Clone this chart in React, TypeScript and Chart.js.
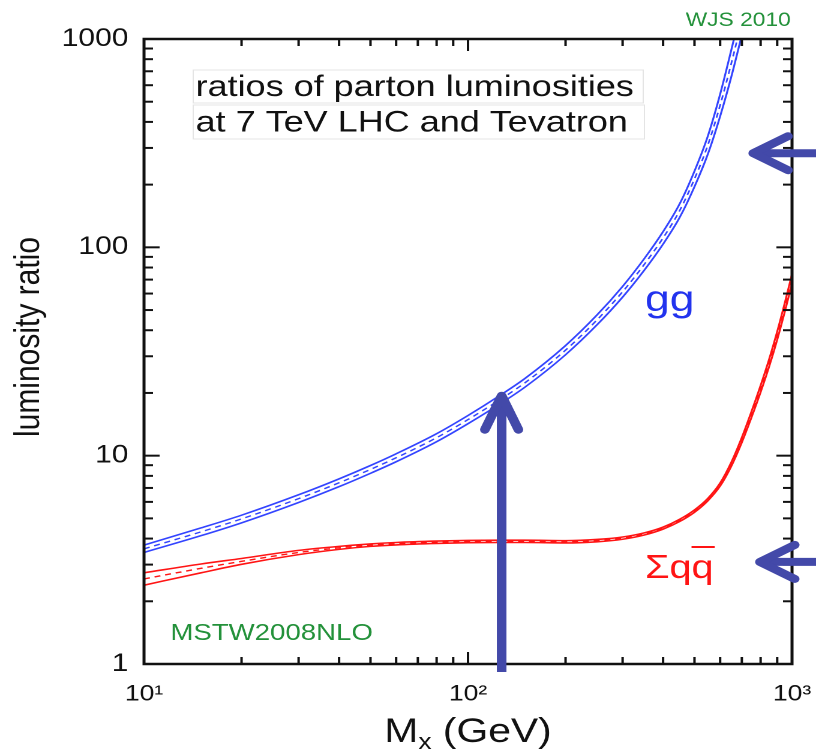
import { useEffect, useRef } from 'react';
import { Chart, registerables } from 'chart.js';

Chart.register(...registerables);

// ---------- data ----------
const massGG = [10, 15, 20, 30, 40, 50, 60, 80, 100, 125, 150, 200, 250, 300, 350, 400, 450, 500, 550, 600, 650, 700];
const ggCentral = [3.57, 4.31, 4.97, 6.22, 7.41, 8.59, 9.77, 12.2, 14.9, 18.5, 22.4, 32.1, 44.8, 61.2, 82.8, 111, 150, 213, 310, 481, 767, 1222];
const ggUpper = [3.72, 4.50, 5.18, 6.49, 7.74, 8.97, 10.21, 12.75, 15.59, 19.39, 23.50, 33.77, 47.31, 64.93, 88.26, 118.9, 161.7, 232.2, 342.6, 543.5, 889.7, 1430];
const ggLower = [3.43, 4.13, 4.76, 5.96, 7.10, 8.23, 9.35, 11.67, 14.24, 17.65, 21.35, 30.51, 42.42, 57.68, 77.67, 103.6, 139.1, 195.4, 280.5, 425.7, 661.2, 1044];

const massQQ = [10, 15, 20, 30, 40, 50, 60, 80, 100, 125, 150, 200, 250, 300, 350, 400, 450, 500, 550, 600, 650, 700, 750, 800, 850, 900, 950, 1000];
const qqCentral = [2.56, 2.88, 3.11, 3.43, 3.61, 3.72, 3.78, 3.84, 3.87, 3.88, 3.88, 3.86, 3.91, 4.02, 4.21, 4.49, 4.89, 5.42, 6.16, 7.27, 9.12, 11.9, 15.8, 20.95, 27.9, 37.7, 51.6, 70.7];
const qqUpper = [2.74, 3.02, 3.21, 3.51, 3.67, 3.77, 3.83, 3.89, 3.92, 3.93, 3.93, 3.91, 3.96, 4.07, 4.26, 4.54, 4.95, 5.49, 6.24, 7.39, 9.32, 12.23, 16.32, 21.73, 29.04, 39.40, 54.13, 74.38];
const qqLower = [2.39, 2.74, 3.01, 3.35, 3.55, 3.67, 3.73, 3.79, 3.82, 3.83, 3.83, 3.81, 3.86, 3.97, 4.16, 4.44, 4.83, 5.35, 6.08, 7.15, 8.92, 11.57, 15.28, 20.17, 26.76, 36.00, 49.07, 67.02];

const xLabelValues = [10, 100, 1000];
const xTickLabels = ['10¹', '10²', '10³'];
const yLabelValues = [1, 10, 100, 1000];
const yTickLabels = ['1', '10', '100', '1000'];
const xTickValues = [10, 20, 30, 40, 50, 60, 70, 80, 90, 100, 200, 300, 400, 500, 600, 700, 800, 900, 1000];
const yTickValues = [1, 2, 3, 4, 5, 6, 7, 8, 9, 10, 20, 30, 40, 50, 60, 70, 80, 90, 100, 200, 300, 400, 500, 600, 700, 800, 900, 1000];
const majorValues = [1, 10, 100, 1000];

// arrows (annotation anchors in data units)
const higgsArrow = { m: 127, from: 0.915, to: 19.4 };
const ggArrow = { m: 759, r: 283 };
const qqArrow = { m: 796, r: 3.09 };

const FONT = '"Liberation Sans", Arial, Helvetica, sans-serif';
const BLUE = '#3344ff';
const RED = '#ff1414';
const ARROW = '#4349a9';
const GREEN = '#23913a';

const band = (label: string, xs: number[], ys: number[], color: string, dashed: boolean, width: number) => ({
  label,
  data: xs.map((m, i) => ({ x: m, y: ys[i] })),
  borderColor: color,
  borderWidth: width,
  borderDash: dashed ? [5, 4] : [],
  pointRadius: 0,
  fill: false,
  cubicInterpolationMode: 'monotone' as const,
});

const annotationPlugin = {
  id: 'annotations',
  afterDraw(chart: any) {
    const { ctx, chartArea: a } = chart;
    const xs = chart.scales.x;
    const ys = chart.scales.y;
    ctx.save();

    const line = (x1: number, y1: number, x2: number, y2: number) => {
      ctx.beginPath();
      ctx.moveTo(x1, y1);
      ctx.lineTo(x2, y2);
      ctx.stroke();
    };

    // frame
    ctx.strokeStyle = '#111';
    ctx.lineWidth = 2.5;
    ctx.strokeRect(a.left, a.top, a.right - a.left, a.bottom - a.top);

    // inward ticks on all four sides
    ctx.lineWidth = 2;
    for (const v of xTickValues) {
      const px = xs.getPixelForValue(v);
      const len = majorValues.includes(v) ? 12 : 7;
      line(px, a.bottom, px, a.bottom - len);
      line(px, a.top, px, a.top + len);
    }
    for (const v of yTickValues) {
      const py = ys.getPixelForValue(v);
      const len = majorValues.includes(v) ? 13 : 7.5;
      line(a.left, py, a.left + len, py);
      line(a.right, py, a.right - len, py);
    }

    // y axis title
    ctx.save();
    ctx.translate(24, 337);
    ctx.rotate(-Math.PI / 2);
    ctx.fillStyle = '#111';
    ctx.font = `30px ${FONT}`;
    ctx.textAlign = 'center';
    ctx.textBaseline = 'middle';
    ctx.fillText('luminosity ratio', 0, 0);
    ctx.restore();

    // title boxes
    ctx.strokeStyle = '#e4e4e4';
    ctx.lineWidth = 1;
    ctx.strokeRect(161, 70, 375, 33);
    ctx.strokeRect(161, 105, 376, 34);
    ctx.fillStyle = '#111';
    ctx.font = `30px ${FONT}`;
    ctx.textAlign = 'left';
    ctx.textBaseline = 'alphabetic';
    ctx.fillText('ratios of parton luminosities', 163, 96);
    ctx.fillText('at 7 TeV LHC and Tevatron', 163, 131.5);

    // credits
    ctx.fillStyle = GREEN;
    ctx.font = `19px ${FONT}`;
    ctx.textAlign = 'right';
    ctx.fillText('WJS 2010', 659, 26);
    ctx.textAlign = 'left';
    ctx.font = `23px ${FONT}`;
    ctx.fillText('MSTW2008NLO', 142, 640);

    // series labels
    ctx.fillStyle = '#2233ee';
    ctx.font = `37px ${FONT}`;
    ctx.fillText('gg', 537.5, 311);

    ctx.fillStyle = RED;
    ctx.font = `33px ${FONT}`;
    ctx.fillText('Σqq', 537.5, 578);
    const wSq = ctx.measureText('Σq').width;
    const wQ = ctx.measureText('q').width;
    ctx.strokeStyle = RED;
    ctx.lineWidth = 2;
    line(537.5 + wSq, 547, 537.5 + wSq + wQ + 1, 547);

    // x axis title: M_x (GeV)
    ctx.fillStyle = '#111';
    ctx.font = `34px ${FONT}`;
    const wM = ctx.measureText('M').width;
    const wRest = ctx.measureText(' (GeV)').width;
    ctx.font = `22px ${FONT}`;
    const wSub = ctx.measureText('x').width;
    const total = wM + wSub + wRest;
    const cx = (a.left + a.right) / 2;
    let tx = cx - total / 2;
    ctx.font = `34px ${FONT}`;
    ctx.fillText('M', tx, 742);
    tx += wM;
    ctx.font = `22px ${FONT}`;
    ctx.fillText('x', tx, 749);
    tx += wSub;
    ctx.font = `34px ${FONT}`;
    ctx.fillText(' (GeV)', tx, 742);

    // arrows
    ctx.strokeStyle = ARROW;
    ctx.lineWidth = 8;
    ctx.lineJoin = 'round';
    const vx = xs.getPixelForValue(higgsArrow.m);
    const vTip = ys.getPixelForValue(higgsArrow.to);
    const vBot = ys.getPixelForValue(higgsArrow.from);
    ctx.lineCap = 'butt';
    line(vx, vBot, vx, vTip + 4);
    ctx.lineCap = 'round';
    ctx.beginPath();
    ctx.moveTo(vx - 14, vTip + 34);
    ctx.lineTo(vx, vTip);
    ctx.lineTo(vx + 14, vTip + 34);
    ctx.stroke();
    for (const h of [ggArrow, qqArrow]) {
      const hx = xs.getPixelForValue(h.m);
      const hy = ys.getPixelForValue(h.r);
      ctx.lineCap = 'butt';
      line(hx + 4, hy, chart.width + 5, hy);
      ctx.lineCap = 'round';
      ctx.beginPath();
      ctx.moveTo(hx + 29, hy - 17);
      ctx.lineTo(hx, hy);
      ctx.lineTo(hx + 29, hy + 17);
      ctx.stroke();
    }

    ctx.restore();
  },
};

export default function App() {
  const ref = useRef<HTMLCanvasElement>(null);

  useEffect(() => {
    const canvas = ref.current;
    if (!canvas) return;
    const chart = new Chart(canvas, {
      type: 'line',
      data: {
        datasets: [
          band('qq upper', massQQ, qqUpper, RED, false, 1.6),
          band('qq lower', massQQ, qqLower, RED, false, 1.6),
          band('qq central', massQQ, qqCentral, RED, true, 1.4),
          band('gg upper', massGG, ggUpper, BLUE, false, 1.6),
          band('gg lower', massGG, ggLower, BLUE, false, 1.6),
          band('gg central', massGG, ggCentral, BLUE, true, 1.4),
        ] as any,
      },
      options: {
        responsive: false,
        devicePixelRatio: 2,
        animation: false,
        layout: { padding: { top: 39, right: 20, left: 0, bottom: 0 } },
        plugins: { legend: { display: false }, tooltip: { enabled: false } },
        elements: { point: { radius: 0 } },
        scales: {
          x: {
            type: 'logarithmic',
            position: 'bottom',
            min: 10,
            max: 1000,
            afterBuildTicks: (s: any) => {
              s.ticks = xLabelValues.map((v) => ({ value: v }));
            },
            afterFit: (s: any) => {
              s.height = 87;
              s.paddingLeft = 0;
              s.paddingRight = 0;
            },
            grid: { display: false, drawTicks: false },
            border: { display: false },
            ticks: {
              autoSkip: false,
              maxRotation: 0,
              padding: 17,
              color: '#111',
              font: { family: FONT, size: 22 },
              callback: (_v: any, i: number) => xTickLabels[i],
            },
          },
          y: {
            type: 'logarithmic',
            position: 'left',
            min: 1,
            max: 1000,
            afterBuildTicks: (s: any) => {
              s.ticks = yLabelValues.map((v) => ({ value: v }));
            },
            afterFit: (s: any) => {
              s.width = 120;
              s.paddingTop = 0;
              s.paddingBottom = 0;
            },
            grid: { display: false, drawTicks: false },
            border: { display: false },
            ticks: {
              autoSkip: false,
              padding: 13,
              color: '#111',
              font: { family: FONT, size: 25 },
              callback: (_v: any, i: number) => yTickLabels[i],
            },
          },
        },
      } as any,
      plugins: [annotationPlugin],
    });
    return () => chart.destroy();
  }, []);

  return (
    <div style={{ position: 'fixed', left: 0, top: 0, width: 816, height: 751, background: '#fff' }}>
      <canvas ref={ref} width={680} height={751} style={{ width: '816px', height: '751px', display: 'block' }} />
    </div>
  );
}
